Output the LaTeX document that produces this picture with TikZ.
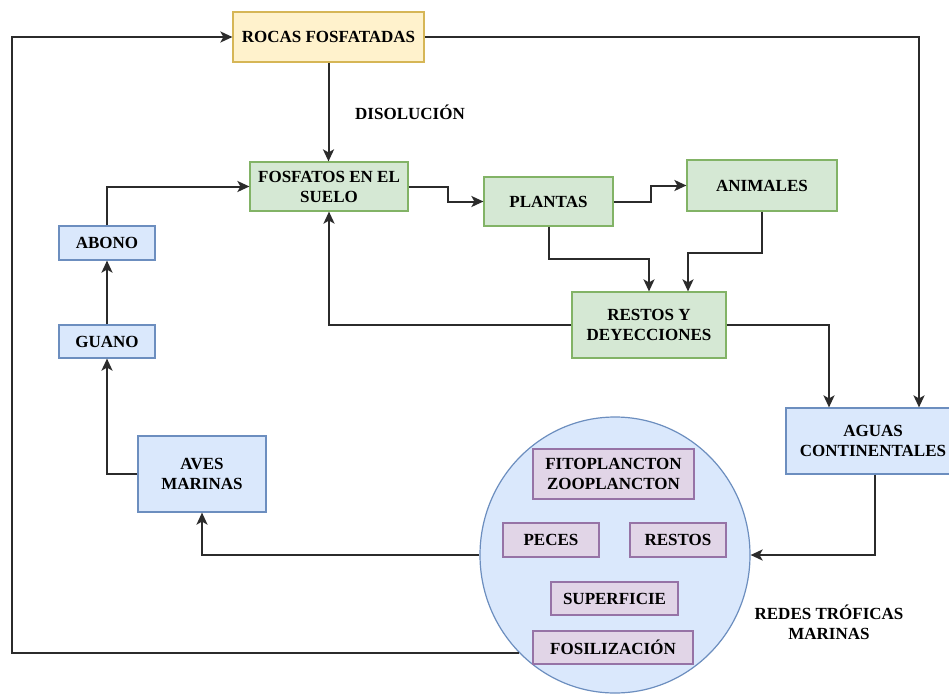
\documentclass[tikz,border=0pt]{standalone}
\usepackage{fontspec}
\setmainfont{Liberation Serif}
\usetikzlibrary{arrows.meta,shapes.geometric}
\definecolor{yfill}{HTML}{FFF2CC}\definecolor{ydraw}{HTML}{D6B656}
\definecolor{gfill}{HTML}{D5E8D4}\definecolor{gdraw}{HTML}{82B366}
\definecolor{bfill}{HTML}{DAE8FC}\definecolor{bdraw}{HTML}{6C8EBF}
\definecolor{pfill}{HTML}{E1D5E7}\definecolor{pdraw}{HTML}{9673A6}
\definecolor{lin}{HTML}{2B2B2B}
\tikzset{
  base/.style={draw, line width=1.2pt, inner sep=0pt, align=center, font=\fontsize{17}{20}\selectfont\bfseries},
  ybox/.style={base, fill=yfill, draw=ydraw},
  gbox/.style={base, fill=gfill, draw=gdraw},
  bbox/.style={base, fill=bfill, draw=bdraw},
  pbox/.style={base, fill=pfill, draw=pdraw},
  lbl/.style={align=center, inner sep=0pt, font=\fontsize{17}{20}\selectfont\bfseries},
  arr/.style={draw=lin, line width=2pt, -{Stealth[length=12pt,width=11pt,inset=3pt]}},
}
\begin{document}
\begin{tikzpicture}[x=1pt,y=-1pt]
\useasboundingbox (0,0) rectangle (949,693);
\clip (0,0) rectangle (949,693);
\fill[white] (0,0) rectangle (949,693);
% nodes
\node[ybox, minimum width=191, minimum height=50] (rocas) at (328.5,37) {ROCAS FOSFATADAS};
\node[gbox, minimum width=158, minimum height=49] (fosf) at (329,186.5) {FOSFATOS EN EL\\SUELO};
\node[gbox, minimum width=129, minimum height=49] (plantas) at (548.5,201.5) {PLANTAS};
\node[gbox, minimum width=150, minimum height=51] (animales) at (762,185.5) {ANIMALES};
\node[gbox, minimum width=154, minimum height=66] (restos) at (649,325) {RESTOS Y\\DEYECCIONES};
\node[bbox, minimum width=174, minimum height=66] (aguas) at (873,441) {AGUAS\\CONTINENTALES};
\node[ellipse, draw=bdraw, fill=bfill, line width=1.2pt, minimum width=270, minimum height=276, inner sep=0pt] (el) at (615,555) {};
\node[pbox, minimum width=161, minimum height=50] (fito) at (613.5,474) {FITOPLANCTON\\ZOOPLANCTON};
\node[pbox, minimum width=96, minimum height=34] (peces) at (551,540) {PECES};
\node[pbox, minimum width=96, minimum height=34] (restosm) at (678,540) {RESTOS};
\node[pbox, minimum width=127, minimum height=33] (superf) at (614.5,598.5) {SUPERFICIE};
\node[pbox, minimum width=160, minimum height=33] (fosil) at (613,647.5) {FOSILIZACIÓN};
\node[bbox, minimum width=128, minimum height=76] (aves) at (202,474) {AVES\\MARINAS};
\node[bbox, minimum width=96, minimum height=33] (guano) at (107,341.5) {GUANO};
\node[bbox, minimum width=96, minimum height=34] (abono) at (107,243) {ABONO};
\node[lbl] (disol) at (410,112) {DISOLUCIÓN};
\node[lbl] (redes) at (829,622) {REDES TRÓFICAS\\MARINAS};
\coordinate (lp) at (12,37);
% connectors
\draw[arr] (el.south west) -| (lp) -- (rocas.west);
\draw[arr] (rocas.east) -| ([xshift=46pt]aguas.north);
\draw[arr] (rocas.south) -- (rocas.south |- fosf.north);
\draw[arr] (fosf.east) -- ++(39,0) |- (plantas.west);
\draw[arr] (plantas.east) -- ++(37,0) |- (animales.west);
\draw[arr] (plantas.south) -- ++(0,32) -| (restos.north);
\draw[arr] (animales.south) -- ++(0,41) -| ([xshift=39pt]restos.north);
\draw[arr] (restos.west) -| (fosf.south);
\draw[arr] (restos.east) -| ([xshift=-44pt]aguas.north);
\draw[arr] ([xshift=2pt]aguas.south) |- (el.east);
\draw[arr] (el.west) -| (aves.south);
\draw[arr] (aves.west) -| (guano.south);
\draw[arr] (guano.north) -- (abono.south);
\draw[arr] (abono.north) |- (fosf.west);
\end{tikzpicture}
\end{document}
